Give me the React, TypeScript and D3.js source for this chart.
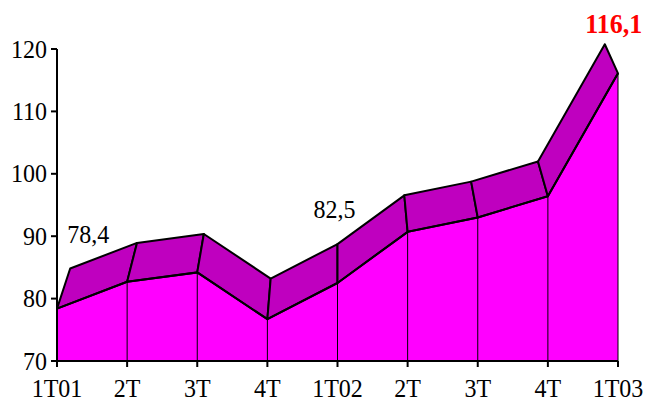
import React from "react";
import * as d3 from "d3";

const categories = ["1T01", "2T", "3T", "4T", "1T02", "2T", "3T", "4T", "1T03"];
const values = [78.4, 82.7, 84.2, 76.7, 82.5, 90.7, 93.0, 96.4, 116.1];
const yTicks = [70, 80, 90, 100, 110, 120];
const labelIdx = [0, 4, 8];
const labelText = ["78,4", "82,5", "116,1"];

const W = 646;
const H = 401;
const FRONT = "#FF00FF";
const TOP = "#BF00BF";
const FONT = "'Liberation Serif', 'Times New Roman', Tinos, 'DejaVu Serif', serif";

export default function App() {
  const x = d3
    .scalePoint<number>()
    .domain(categories.map((_, i) => i))
    .range([57, 618]);
  const y = d3.scaleLinear().domain([70, 120]).range([361, 49]);

  const vpx = (57 + 618) / 2;
  const vpy = -545;
  const k = 0.047;
  const back = (px: number, py: number): [number, number] => [
    px - (px - vpx) * k,
    py - (py - vpy) * k,
  ];

  const front: [number, number][] = values.map((v, i) => [x(i)!, y(v)]);
  const backPts = front.map(([px, py]) => back(px, py));

  const area = d3
    .area<[number, number]>()
    .x((d) => d[0])
    .y0(y(70))
    .y1((d) => d[1]);
  const line = d3.line<[number, number]>();

  const quads = front.slice(0, -1).map((p, i) => [
    p,
    front[i + 1],
    backPts[i + 1],
    backPts[i],
  ]);

  const textStyle = { fontFamily: FONT, fontSize: 24 } as React.CSSProperties;
  const labelPos = [
    { dx: 18, y: 243 },
    { dx: -3, y: 218 },
    { dx: 9, y: 33 },
  ];
  const sy = 1.07;

  return (
    <div style={{ position: "absolute", left: 0, top: 0 }}>
      <svg width={W} height={H} style={{ display: "block", background: "#fff" }}>
        <path d={area(front)!} fill={FRONT} stroke="none" />
        {front.map(([px, py], i) => (
          <line key={"v" + i} x1={px} x2={px} y1={y(70)} y2={py} stroke="#000" strokeWidth={1} />
        ))}
        {quads.map((q, i) => (
          <path
            key={"q" + i}
            d={line(q as [number, number][])! + "Z"}
            fill={TOP}
            stroke="#000"
            strokeWidth={2}
            strokeLinejoin="round"
          />
        ))}
        <path d={line(front)!} fill="none" stroke="#000" strokeWidth={2} />
        <line x1={57} x2={57} y1={y(120)} y2={y(70)} stroke="#000" strokeWidth={2} />
        {yTicks.map((t) => (
          <g key={"yt" + t}>
            <line x1={51} x2={57} y1={y(t)} y2={y(t)} stroke="#000" strokeWidth={2} />
            <text
              transform={`translate(47,${y(t) + 8.5}) scale(1,${sy})`}
              textAnchor="end"
              style={textStyle}
              fill="#000"
            >
              {t}
            </text>
          </g>
        ))}
        <line x1={57} x2={618} y1={y(70)} y2={y(70)} stroke="#000" strokeWidth={2} />
        {categories.map((c, i) => (
          <g key={"xt" + i}>
            <line x1={x(i)!} x2={x(i)!} y1={y(70)} y2={y(70) + 6} stroke="#000" strokeWidth={2} />
            <text
              transform={`translate(${x(i)!},397) scale(1,${sy})`}
              textAnchor="middle"
              style={textStyle}
              fill="#000"
            >
              {c}
            </text>
          </g>
        ))}
        {labelIdx.map((idx, j) => {
          const [bx] = backPts[idx];
          const hl = j === 2;
          return (
            <text
              key={"l" + idx}
              transform={`translate(${bx + labelPos[j].dx},${labelPos[j].y}) scale(1,${sy})`}
              textAnchor="middle"
              style={{ fontFamily: FONT, fontSize: hl ? 26 : 24, fontWeight: hl ? "bold" : "normal" }}
              fill={hl ? "#FF0000" : "#000"}
            >
              {labelText[j]}
            </text>
          );
        })}
      </svg>
    </div>
  );
}
